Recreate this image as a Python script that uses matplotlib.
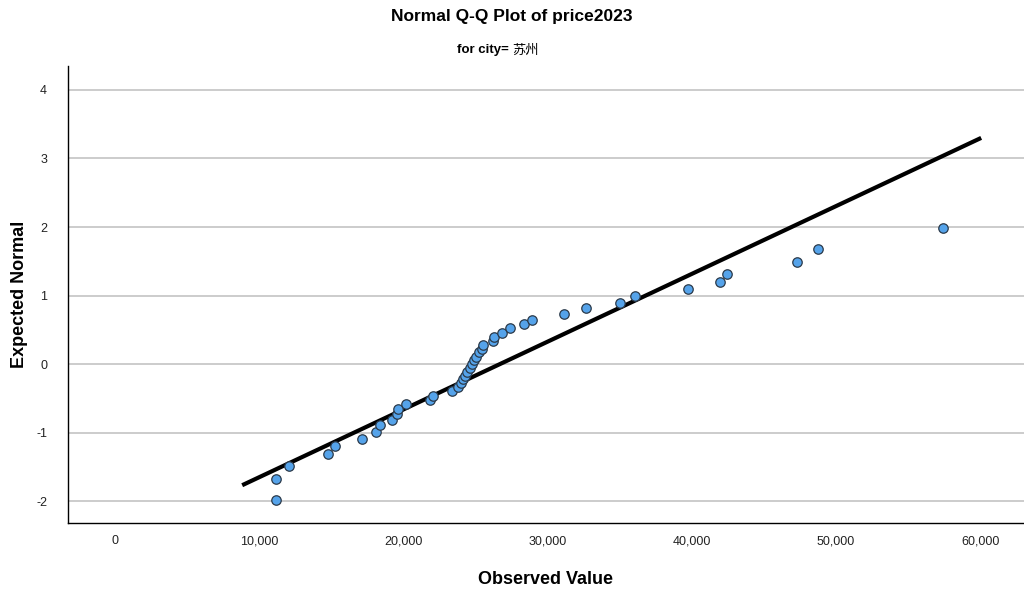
import numpy as np
import matplotlib.pyplot as plt
from matplotlib.ticker import FuncFormatter

##############################################################################
# Data
##############################################################################

observed = np.array([
    11140, 11140, 12070, 14790, 15260, 17110, 18100, 18380, 19230, 19540,
    19600, 20180, 21840, 22070, 23340, 23810, 23970, 24150, 24270, 24430,
    24620, 24780, 24900, 25030, 25260, 25430, 25540, 26230, 26280, 26820,
    27360, 28380, 28940, 31160, 32680, 35020, 36030, 39720, 41960, 42460,
    47320, 48770, 57440])

expected = np.array([
    -1.99, -1.68, -1.49, -1.32, -1.20, -1.09, -0.99, -0.89, -0.82, -0.73,
    -0.65, -0.58, -0.53, -0.46, -0.39, -0.33, -0.28, -0.22, -0.17, -0.11,
    -0.06, 0.00, 0.06, 0.11, 0.17, 0.22, 0.28, 0.33, 0.39, 0.46,
    0.53, 0.58, 0.65, 0.73, 0.82, 0.89, 0.99, 1.09, 1.20, 1.32,
    1.49, 1.68, 1.99])

# reference line (normal fit)
line_mean = 26700
line_sd = 10110
line_x = np.array([8820, 60070])
line_y = (line_x - line_mean) / line_sd

x_ticks = [0, 10000, 20000, 30000, 40000, 50000, 60000]
y_ticks = [-2, -1, 0, 1, 2, 3, 4]

##############################################################################
# Plot
##############################################################################

font_lat = ['Liberation Sans', 'DejaVu Sans']
font_mix = ['Liberation Sans', 'Noto Sans CJK SC', 'DejaVu Sans']
plt.rcParams['font.family'] = font_mix
plt.rcParams['axes.unicode_minus'] = False

fig = plt.figure(figsize=(10.24, 5.89), dpi=100)
ax = fig.add_axes([68 / 1024, 66 / 589, 1 - 68 / 1024, 457 / 589])

ax.set_xlim(-3260, 63040)
ax.set_ylim(-2.32, 4.35)

for t in y_ticks:
    ax.axhline(t, color='#c4c4c4', lw=1.2, zorder=0)

ax.plot(line_x, line_y, color='black', lw=3, solid_capstyle='butt', zorder=2)
ax.plot(observed, expected, 'o', ms=6.8, mfc='#55a3ea', mec='#2b3a4a',
        mew=0.9, zorder=3)

ax.set_xticks(x_ticks)
ax.set_yticks(y_ticks)
ax.xaxis.set_major_formatter(FuncFormatter(lambda v, p: f"{int(v):,}"))
ax.tick_params(length=0, labelsize=9, colors='#222222', pad=9)
ax.tick_params(axis='y', pad=15)

for s in ['top', 'right']:
    ax.spines[s].set_visible(False)
ax.spines['left'].set_linewidth(1.0)
ax.spines['bottom'].set_linewidth(1.0)

ax.set_xlabel("Observed Value", fontsize=13, fontweight='bold',
              family=font_lat, labelpad=17)
ax.set_ylabel("Expected Normal", fontsize=13, fontweight='bold',
              family=font_lat)
ax.yaxis.set_label_coords(-0.042, 0.5)

fig.text(0.5, 1 - 17 / 589, "Normal Q-Q Plot of price2023", ha='center',
         va='center', fontsize=12.5, fontweight='bold', family=font_lat)
fig.text(0.5, 1 - 50 / 589, "for city= ", ha='right', va='center',
         fontsize=9.5, fontweight='bold', family=font_lat)
fig.text(0.5, 1 - 50 / 589, "苏州", ha='left', va='center',
         fontsize=9.5, family=['Noto Sans CJK SC', 'DejaVu Sans'])

plt.savefig("out.png", dpi=100)
